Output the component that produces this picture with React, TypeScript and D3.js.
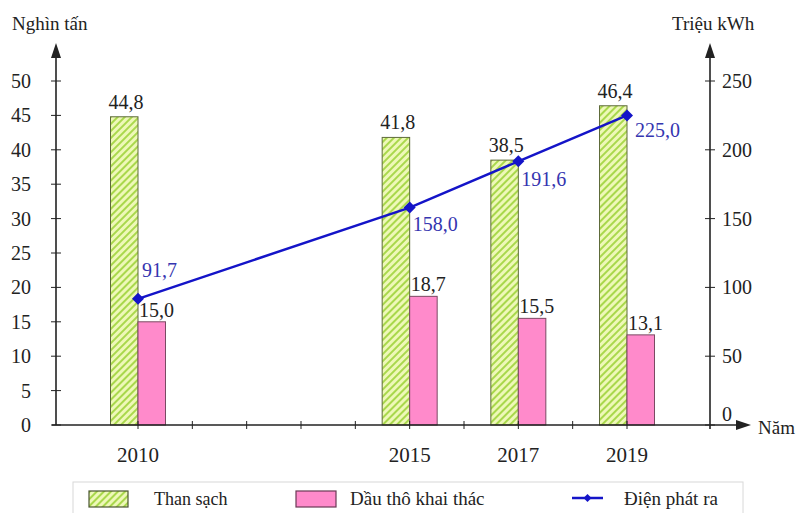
import React from "react";
import * as d3 from "d3";

const years = [2010, 2015, 2017, 2019];
const coal = [44.8, 41.8, 38.5, 46.4];
const oil = [15.0, 18.7, 15.5, 13.1];
const power = [91.7, 158.0, 191.6, 225.0];
const leftTicks = [0, 5, 10, 15, 20, 25, 30, 35, 40, 45, 50];
const rightTicks = [0, 50, 100, 150, 200, 250];
const yearTicks = [2010, 2011, 2012, 2013, 2014, 2015, 2016, 2017, 2018, 2019];
const fmt = (v: number) => v.toFixed(1).replace(".", ",");

const W = 801, H = 513;
const FONT = '"Times New Roman", "Liberation Serif", "DejaVu Serif", serif';

export default function App() {
  const x = d3.scaleLinear().domain([2010, 2019]).range([138, 627]);
  const yL = d3.scaleLinear().domain([0, 50]).range([425, 81]);
  const yR = d3.scaleLinear().domain([0, 250]).range([425, 81]);
  const axL = 56, axR = 710, base = yL(0);
  const bw = 27.5;
  const line = d3.line<number>().x((_, i) => x(years[i])).y((d) => yR(d));
  const lblOff = [[4, -22], [3, 23], [3, 25], [8, 22]];
  const ink = "#222";
  const ts = { fontFamily: FONT };
  return (
    <svg width={W} height={H} style={{ position: "absolute", left: 0, top: 0, background: "#fff", fontFamily: FONT }}>
      <defs>
        <pattern id="hatch" width="5" height="5" patternUnits="userSpaceOnUse" patternTransform="rotate(45)">
          <rect width="5" height="5" fill="#eef8b8" />
          <rect width="2" height="5" fill="#a9d84c" />
        </pattern>
      </defs>
      <rect x={0} y={0} width={W} height={H} fill="#fff" />
      {years.map((yr, i) => (
        <g key={yr}>
          <rect x={x(yr) - bw} y={yL(coal[i])} width={bw} height={base - yL(coal[i])} fill="url(#hatch)" stroke="#5e6b3a" strokeWidth={1} />
          <rect x={x(yr)} y={yL(oil[i])} width={bw} height={base - yL(oil[i])} fill="#ff8acb" stroke="#7a4a63" strokeWidth={1} />
          <text style={ts} x={x(yr) - bw - 2} y={yL(coal[i]) - 8} fontSize={20} fill={ink}>{fmt(coal[i])}</text>
          <text style={ts} x={x(yr) + 1} y={yL(oil[i]) - 5} fontSize={20} fill={ink}>{fmt(oil[i])}</text>
        </g>
      ))}
      <line x1={axL} y1={base} x2={axL} y2={56} stroke={ink} strokeWidth={1.6} />
      <path d={`M${axL - 5},58 L${axL},43 L${axL + 5},58 Z`} fill={ink} />
      <line x1={axR} y1={base + 4} x2={axR} y2={56} stroke={ink} strokeWidth={1.6} />
      <path d={`M${axR - 5},58 L${axR},43 L${axR + 5},58 Z`} fill={ink} />
      <line x1={axL - 4} y1={base} x2={738} y2={base} stroke={ink} strokeWidth={1.6} />
      <path d={`M736,${base - 5} L751,${base} L736,${base + 5} Z`} fill={ink} />
      {leftTicks.map((t) => (
        <g key={"l" + t}>
          <line x1={axL - 5} x2={axL + 5} y1={yL(t)} y2={yL(t)} stroke={ink} strokeWidth={1} />
          <text style={ts} x={31} y={yL(t)} dy="0.35em" textAnchor="end" fontSize={20} fill={ink}>{t}</text>
        </g>
      ))}
      {rightTicks.map((t) => (
        <g key={"r" + t}>
          <line x1={axR - 5} x2={axR + 5} y1={yR(t)} y2={yR(t)} stroke={ink} strokeWidth={1} />
          <text style={ts} x={722} y={yR(t) - (t === 0 ? 11 : 0)} dy="0.35em" fontSize={20} fill={ink}>{t}</text>
        </g>
      ))}
      {yearTicks.map((t) => (
        <line key={"x" + t} x1={x(t)} x2={x(t)} y1={base - 4} y2={base + 4} stroke={ink} strokeWidth={1} />
      ))}
      {years.map((yr) => (
        <text style={ts} key={"yl" + yr} x={x(yr)} y={462} textAnchor="middle" fontSize={21} fill={ink}>{yr}</text>
      ))}
      <text style={ts} x={12} y={30} fontSize={19} fill={ink}>Nghìn tấn</text>
      <text style={ts} x={672} y={30} fontSize={19} fill={ink}>Triệu kWh</text>
      <text style={ts} x={758} y={434} fontSize={19} fill={ink}>Năm</text>
      <path d={line(power) || ""} fill="none" stroke="#1414c8" strokeWidth={2.5} />
      {power.map((v, i) => {
        const cx = x(years[i]), cy = yR(v);
        return (
          <g key={"p" + i}>
            <path d={`M${cx},${cy - 6} L${cx + 6},${cy} L${cx},${cy + 6} L${cx - 6},${cy} Z`} fill="#1414c8" />
            <text style={ts} x={cx + lblOff[i][0]} y={cy + lblOff[i][1]} fontSize={20} fill="#3535b0">{fmt(v)}</text>
          </g>
        );
      })}
      <rect x={73} y={482} width={670} height={40} fill="#fff" stroke="#d8d8d8" strokeWidth={1} />
      <rect x={89} y={491} width={39} height={16} fill="url(#hatch)" stroke="#4a5530" strokeWidth={1.2} />
      <text style={ts} x={154} y={505} fontSize={18} fill={ink}>Than sạch</text>
      <rect x={296} y={491} width={40} height={16} fill="#ff8acb" stroke="#6a3a55" strokeWidth={1.2} />
      <text style={ts} x={350} y={505} fontSize={19} fill={ink}>Dầu thô khai thác</text>
      <line x1={572} x2={603} y1={498} y2={498} stroke="#1414c8" strokeWidth={2.5} />
      <path d="M587.5,494 L591.5,498 L587.5,502 L583.5,498 Z" fill="#1414c8" />
      <text style={ts} x={624} y={505} fontSize={19} fill={ink}>Điện phát ra</text>
    </svg>
  );
}
